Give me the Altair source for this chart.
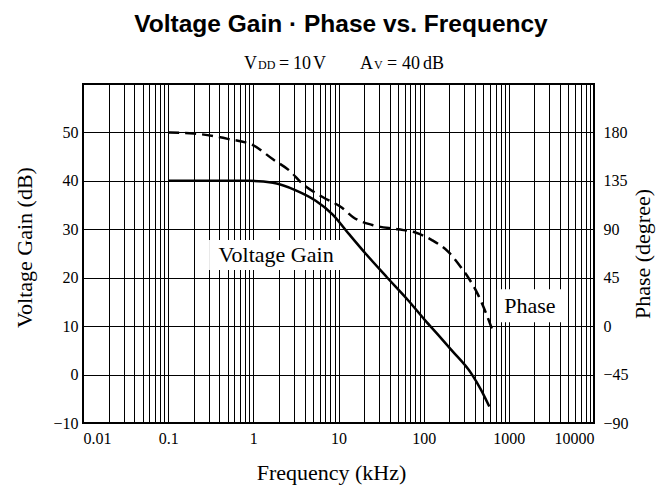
import altair as alt
import pandas as pd

# ---- data ----
gain_freq = [0.1, 0.5, 0.9, 1.7, 3.2, 5.4, 8.5, 13.3, 21, 37, 66, 104, 148, 211, 360, 470, 590]
gain_db = [40, 40, 40, 39.6, 38, 35.9, 33.1, 29, 24.9, 20.1, 15.3, 11.2, 8.2, 5.1, 0.3, -3.1, -6.6]

phase_freq = [0.1, 0.2, 0.5, 1, 1.7, 2.7, 3.8, 6.5, 11, 15, 25, 50, 80, 125, 195, 290, 335, 430, 540, 650]
phase_deg = [180, 179, 174, 168, 155, 144, 132, 120, 110, 101, 94, 90, 87, 80, 69, 52, 45, 30, 12, -5]

decades = [0.01, 0.1, 1, 10, 100, 1000, 10000]
gain_ticks = [-10, 0, 10, 20, 30, 40, 50]
phase_ticks = [-90, -45, 0, 45, 90, 135, 180]

label_text = ["Voltage Gain", "Phase"]
label_freq = [1.85, 1770]
label_db = [24.7, 14.2]

grid_x = [round(d * m, 6) for d in decades[:-1] for m in range(1, 10)] + [decades[-1]]

gain_df = pd.DataFrame({"freq": gain_freq, "db": gain_db})
phase_df = pd.DataFrame({"freq": phase_freq, "deg": phase_deg})
label_df = pd.DataFrame({"freq": label_freq, "db": label_db, "label": label_text})
one = pd.DataFrame({"k": [0]})

SERIF = "Liberation Serif"

dec_list = "[" + ",".join(str(d) for d in decades) + "]"
X_ENC = alt.X(
    "freq:Q",
    scale=alt.Scale(type="log", domain=[0.01, 10000], nice=False),
    axis=alt.Axis(
        values=grid_x,
        format="~g",
        labelExpr=f"indexof({dec_list}, datum.value) >= 0 ? datum.label : ''",
        grid=True, gridColor="black", gridOpacity=1, gridWidth=1,
        ticks=False, domain=False,
        labelFont=SERIF, labelFontSize=16, labelColor="black", labelPadding=7,
        labelFlush=True, labelOverlap=False,
        title="Frequency (kHz)", titleFont=SERIF, titleFontSize=22,
        titleFontWeight="normal", titleColor="black", titlePadding=16,
        titleX=248,
    ),
)
Y_ENC = alt.Y(
    "db:Q",
    scale=alt.Scale(domain=[-10, 60], nice=False, zero=False),
    axis=alt.Axis(
        values=gain_ticks,
        grid=True, gridColor="black", gridOpacity=1, gridWidth=1,
        ticks=False, domain=False,
        labelFont=SERIF, labelFontSize=16, labelColor="black", labelPadding=5,
        title="Voltage Gain (dB)", titleFont=SERIF, titleFontSize=22,
        titleFontWeight="normal", titleColor="black", titlePadding=16,
        titleY=163,
    ),
)

boxes_v = alt.Chart(label_df[label_df.label == "Voltage Gain"]).mark_rect(
    fill="white", width=134, height=30).encode(x=X_ENC, y=Y_ENC)
boxes_p = alt.Chart(label_df[label_df.label == "Phase"]).mark_rect(
    fill="white", width=66, height=33).encode(x=X_ENC, y=Y_ENC)

labels = alt.Chart(label_df).mark_text(
    font=SERIF, fontSize=22, color="black", align="center", baseline="middle"
).encode(x=X_ENC, y=Y_ENC, text="label:N")

gain_line = alt.Chart(gain_df).mark_line(
    color="black", strokeWidth=2.5, interpolate="monotone"
).encode(x=X_ENC, y=Y_ENC)


# title and subtitle (annotation text, positions relative to the plot's top-left)
def txt(s, x, y, size, font=SERIF, weight="normal", align="left"):
    return alt.Chart(one).mark_text(
        font=font, fontSize=size, fontWeight=weight, color="black",
        align=align, baseline="alphabetic"
    ).encode(x=alt.value(x), y=alt.value(y), text=alt.value(s))


title = txt("Voltage Gain \u00b7 Phase vs. Frequency", 258, -52, 24.5,
            font="Liberation Sans", weight="bold", align="center")
X0 = -83
sub_y = -15
subtitle = [
    txt("V", X0 + 244, sub_y, 18),
    txt("DD", X0 + 258, sub_y, 12),
    txt("=", X0 + 279, sub_y, 18),
    txt("10", X0 + 293, sub_y, 18),
    txt("V", X0 + 313, sub_y, 18),
    txt("A", X0 + 360, sub_y, 18),
    txt("V", X0 + 374, sub_y, 12),
    txt("=", X0 + 387, sub_y, 18),
    txt("40", X0 + 402, sub_y, 18),
    txt("dB", X0 + 423, sub_y, 18),
]

inner = alt.layer(boxes_v, boxes_p, labels, gain_line, title, *subtitle)

phase_line = alt.Chart(phase_df).mark_line(
    color="black", strokeWidth=2.5, strokeDash=[11, 6], interpolate="monotone"
).encode(
    x=X_ENC,
    y=alt.Y(
        "deg:Q",
        scale=alt.Scale(domain=[-90, 225], nice=False, zero=False),
        axis=alt.Axis(
            orient="right", values=phase_ticks, grid=False, ticks=False, domain=False,
            labelFont=SERIF, labelFontSize=16, labelColor="black", labelPadding=9,
            title="Phase (degree)", titleFont=SERIF, titleFontSize=22,
            titleFontWeight="normal", titleColor="black", titleAngle=270,
            titleBaseline="top", titlePadding=4,
        ),
    ),
)

chart = alt.layer(inner, phase_line).resolve_scale(y="independent").properties(
    width=511, height=339,
    padding={"left": 75, "top": 76, "right": 62, "bottom": 64},
    autosize=alt.AutoSizeParams(type="none"),
    background="white",
).configure_view(stroke="black", strokeWidth=2)

chart.save("out.html", embed_options={"renderer": "svg", "actions": False})
